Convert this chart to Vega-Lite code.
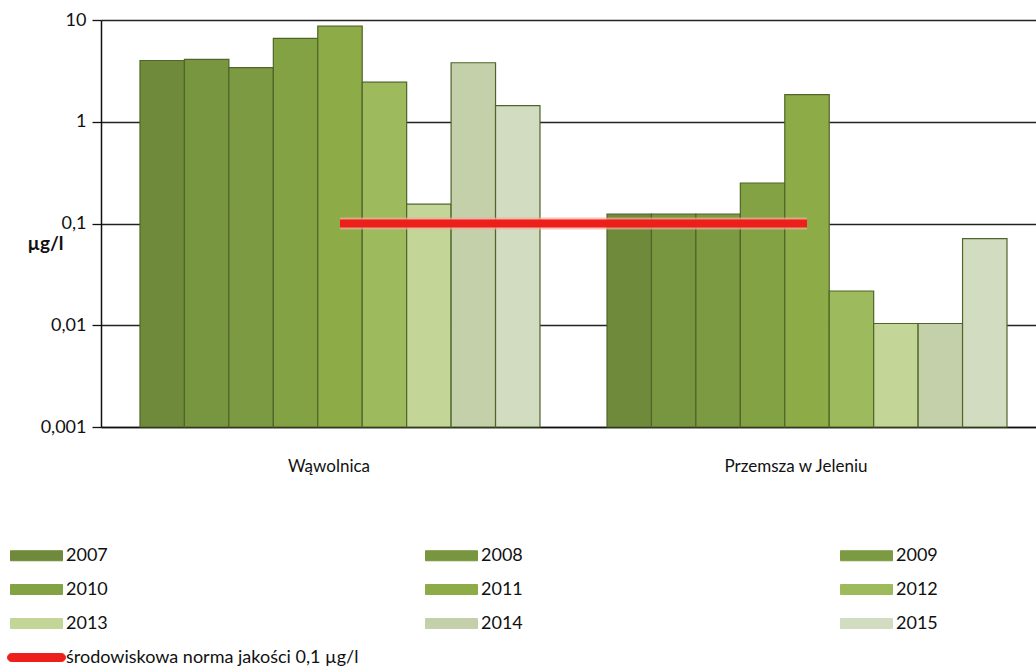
{
  "$schema": "https://vega.github.io/schema/vega-lite/v6.json",
  "width": 935,
  "height": 407,
  "autosize": {"type": "none"},
  "padding": {"left": 101, "top": 20, "right": 0, "bottom": 241},
  "background": "white",
  "config": {
    "view": {"stroke": null},
    "font": "Lato",
    "axis": {"labelColor": "#111111", "titleColor": "#111111"}
  },
  "datasets": {
    "stezenia": [
      {"stanowisko": "Wąwolnica", "seria": "2007", "wartosc": 4.0},
      {"stanowisko": "Wąwolnica", "seria": "2008", "wartosc": 4.1},
      {"stanowisko": "Wąwolnica", "seria": "2009", "wartosc": 3.4},
      {"stanowisko": "Wąwolnica", "seria": "2010", "wartosc": 6.6},
      {"stanowisko": "Wąwolnica", "seria": "2011", "wartosc": 8.7},
      {"stanowisko": "Wąwolnica", "seria": "2012", "wartosc": 2.45},
      {"stanowisko": "Wąwolnica", "seria": "2013", "wartosc": 0.155},
      {"stanowisko": "Wąwolnica", "seria": "2014", "wartosc": 3.8},
      {"stanowisko": "Wąwolnica", "seria": "2015", "wartosc": 1.44},
      {"stanowisko": "Przemsza w Jeleniu", "seria": "2007", "wartosc": 0.124},
      {"stanowisko": "Przemsza w Jeleniu", "seria": "2008", "wartosc": 0.124},
      {"stanowisko": "Przemsza w Jeleniu", "seria": "2009", "wartosc": 0.124},
      {"stanowisko": "Przemsza w Jeleniu", "seria": "2010", "wartosc": 0.25},
      {"stanowisko": "Przemsza w Jeleniu", "seria": "2011", "wartosc": 1.85},
      {"stanowisko": "Przemsza w Jeleniu", "seria": "2012", "wartosc": 0.0217},
      {"stanowisko": "Przemsza w Jeleniu", "seria": "2013", "wartosc": 0.0104},
      {"stanowisko": "Przemsza w Jeleniu", "seria": "2014", "wartosc": 0.0104},
      {"stanowisko": "Przemsza w Jeleniu", "seria": "2015", "wartosc": 0.071}
    ],
    "norma": [
      {"stanowisko": "Wąwolnica", "seria": "środowiskowa norma jakości 0,1 µg/l", "wartosc": 0.1},
      {"stanowisko": "Przemsza w Jeleniu", "seria": "środowiskowa norma jakości 0,1 µg/l", "wartosc": 0.1}
    ]
  },
  "layer": [
    {
      "data": {"name": "stezenia"},
      "mark": {"type": "bar", "stroke": "#4f6529", "strokeWidth": 1.2},
      "encoding": {
        "x": {
          "field": "stanowisko",
          "type": "nominal",
          "sort": ["Wąwolnica", "Przemsza w Jeleniu"],
          "scale": {"range": [0, 945], "paddingInner": 0.1435, "paddingOuter": 0.0835},
          "axis": {
            "title": null,
            "labelAngle": 0,
            "labelFontSize": 17,
            "labelPadding": 31,
            "labelOffset": -11,
            "ticks": false,
            "domainColor": "#111111",
            "domainWidth": 1.5,
            "grid": false
          }
        },
        "xOffset": {
          "field": "seria",
          "type": "nominal",
          "sort": ["2007", "2008", "2009", "2010", "2011", "2012", "2013", "2014", "2015"],
          "scale": {"paddingInner": 0, "paddingOuter": 0}
        },
        "y": {
          "field": "wartosc",
          "type": "quantitative",
          "scale": {"type": "log", "domain": [0.001, 10]},
          "axis": {
            "values": [0.001, 0.01, 0.1, 1, 10],
            "labelExpr": "replace(toString(datum.value), '.', ',')",
            "labelFontSize": 18,
            "labelPadding": 6,
            "tickSize": 9,
            "tickColor": "#111111",
            "tickWidth": 1.3,
            "domainColor": "#111111",
            "domainWidth": 1.5,
            "grid": true,
            "gridColor": "#222222",
            "gridWidth": 1.3,
            "title": "µg/l",
            "titleAngle": 0,
            "titleFontSize": 19,
            "titleFontWeight": "bold",
            "titleAlign": "center",
            "titleBaseline": "middle",
            "titleX": -56,
            "titleY": 223
          }
        },
        "y2": {"datum": 0.001},
        "color": {
          "field": "seria",
          "type": "nominal",
          "scale": {
            "domain": ["2007", "2008", "2009", "2010", "2011", "2012", "2013", "2014", "2015", "środowiskowa norma jakości 0,1 µg/l"],
            "range": ["#6f8a3a", "#78953f", "#7c9a42", "#83a244", "#8dac47", "#9dbb5c", "#c4d598", "#c3d0aa", "#d2dcc0", "#ec1f1a"]
          },
          "legend": {
            "title": null,
            "orient": "none",
            "legendX": -75,
            "legendY": 525,
            "direction": "horizontal",
            "columns": 3,
            "gridAlign": "all",
            "columnPadding": 64,
            "rowPadding": 14,
            "symbolType": "M-2.6,-0.5L2.6,-0.5L2.6,0.5L-2.6,0.5Z",
            "symbolSize": 400,
            "symbolStrokeColor": "#3d4f1f",
            "symbolStrokeWidth": 1,
            "labelFontSize": 18,
            "labelLimit": 420,
            "labelOffset": 19,
            "labelColor": "#111111",
            "encode": {
              "symbols": {
                "update": {
                  "shape": {"signal": "datum.label == 'środowiskowa norma jakości 0,1 µg/l' ? 'M-2.5,-0.4L2.5,-0.4A0.4,0.4 0 0 1 2.5,0.4L-2.5,0.4A0.4,0.4 0 0 1 -2.5,-0.4Z' : 'M-2.6,-0.5L2.6,-0.5L2.6,0.5L-2.6,0.5Z'"},
                  "stroke": {"signal": "datum.label == 'środowiskowa norma jakości 0,1 µg/l' ? '#f07a70' : '#3d4f1f'"}
                }
              }
            }
          }
        }
      }
    },
    {
      "data": {"name": "norma"},
      "mark": {"type": "line", "color": "#f8a99c", "strokeWidth": 12, "opacity": 0.7, "strokeCap": "butt"},
      "encoding": {
        "x": {"field": "stanowisko", "type": "nominal", "sort": ["Wąwolnica", "Przemsza w Jeleniu"]},
        "y": {"field": "wartosc", "type": "quantitative"}
      }
    },
    {
      "data": {"name": "norma"},
      "mark": {"type": "line", "strokeWidth": 8, "strokeCap": "butt"},
      "encoding": {
        "x": {"field": "stanowisko", "type": "nominal", "sort": ["Wąwolnica", "Przemsza w Jeleniu"]},
        "y": {"field": "wartosc", "type": "quantitative"},
        "color": {"field": "seria", "type": "nominal"}
      }
    }
  ]
}
